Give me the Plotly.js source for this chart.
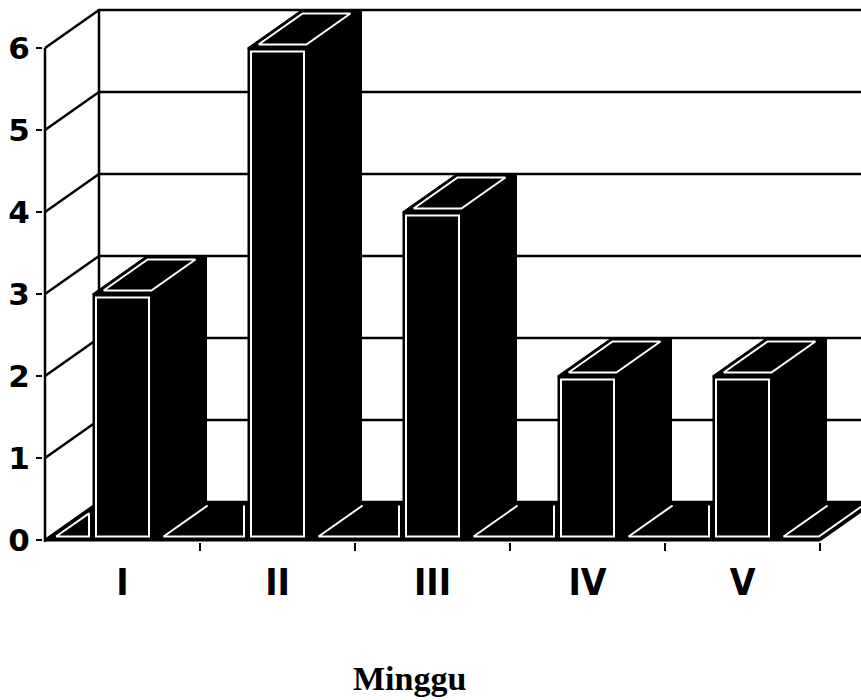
<!DOCTYPE html>
<html>
<head>
<meta charset="utf-8">
<script src="https://cdn.plot.ly/plotly-3.0.1.min.js"></script>
<style>html,body{margin:0;padding:0;background:#fff;}#chart{width:861px;height:700px;}</style>
</head>
<body>
<div id="chart"></div>
<script>
// ---- data ----
const weeks = ['I', 'II', 'III', 'IV', 'V'];
const counts = [3, 6, 4, 2, 2];
const yTickVals = [0, 1, 2, 3, 4, 5, 6];
const yTickText = ['0', '1', '2', '3', '4', '5', '6'];
const xTitle = 'Minggu';

// ---- geometry (pixel scale of the front plane) ----
const W = 861, H = 700;
const ML = 43, MR = 0, MT = 5, MB = 158;
const PX = 155, PY = 82;            // px per data unit
const DX = 54 / PX, DY = 38 / PY;   // 3D depth offset
const HW = 30 / PX;                 // half bar width
const INS = 3.5;                    // inset of white outlines (px)
const xs = counts.map((_, i) => i);
const XL = -0.5, XR = counts.length - 0.5;
const YTOP = yTickVals[yTickVals.length - 1];
const x0 = XL - 2 / PX, x1 = x0 + (W - ML - MR) / PX;
const y0 = -2 / PY, y1 = y0 + (H - MT - MB) / PY;

function toPx(p) { return [p[0] * PX, p[1] * PY]; }
function toData(p) { return [p[0] / PX, p[1] / PY]; }
function insetPoly(poly, d) {
  const P = poly.map(toPx), n = P.length;
  let a = 0;
  for (let i = 0; i < n; i++) { const A = P[i], B = P[(i + 1) % n]; a += A[0] * B[1] - B[0] * A[1]; }
  const s = a > 0 ? 1 : -1;
  const L = [];
  for (let i = 0; i < n; i++) {
    const A = P[i], B = P[(i + 1) % n];
    let ex = B[0] - A[0], ey = B[1] - A[1];
    const len = Math.hypot(ex, ey); ex /= len; ey /= len;
    const nx = -ey * s, ny = ex * s;
    L.push({ p: [A[0] + nx * d, A[1] + ny * d], d: [ex, ey] });
  }
  const out = [];
  for (let i = 0; i < n; i++) {
    const A = L[(i - 1 + n) % n], B = L[i];
    const det = A.d[0] * (-B.d[1]) - A.d[1] * (-B.d[0]);
    const rx = B.p[0] - A.p[0], ry = B.p[1] - A.p[1];
    const t = (rx * (-B.d[1]) - ry * (-B.d[0])) / det;
    out.push([A.p[0] + t * A.d[0], A.p[1] + t * A.d[1]]);
  }
  return out.map(toData);
}
function polyTrace(poly, fill, lineColor, lineWidth, closed) {
  const pts = closed ? poly.concat([poly[0]]) : poly;
  return {
    type: 'scatter', mode: 'lines', x: pts.map(p => p[0]), y: pts.map(p => p[1]),
    fill: fill ? 'toself' : 'none', fillcolor: fill || undefined,
    line: { color: lineColor, width: lineWidth }, hoverinfo: 'skip', showlegend: false
  };
}
function openPath(poly, skipEdge) {
  const n = poly.length, res = [];
  for (let k = 1; k <= n; k++) res.push(poly[(skipEdge + k) % n]);
  return res;
}

const traces = [];
// front faces (bars)
traces.push({
  type: 'bar', x: xs, y: counts, width: 2 * HW, base: 0,
  marker: { color: '#000', line: { width: 0 } }, hoverinfo: 'skip', showlegend: false
});
traces.push({
  type: 'bar', x: xs, y: counts.map(v => v - 2 * INS / PY), base: INS / PY,
  width: 2 * HW - 2 * INS / PX,
  marker: { color: 'rgba(0,0,0,0)', line: { color: '#fff', width: 2 } }, hoverinfo: 'skip', showlegend: false
});

// floor pieces visible between bars
const floorPieces = [];
{
  const xl = xs[0] - HW;
  if (xl - XL < DX) floorPieces.push({ poly: [[XL, 0], [xl, 0], [xl, DY * (xl - XL) / DX]], skip: -1 });
  else floorPieces.push({ poly: [[XL, 0], [xl, 0], [xl, DY], [XL + DX, DY]], skip: 2 });
  for (let i = 0; i < xs.length - 1; i++) {
    const a = xs[i] + HW, b = xs[i + 1] - HW;
    floorPieces.push({ poly: [[a, 0], [b, 0], [b, DY], [a + DX, DY]], skip: 2 });
  }
  const a = xs[xs.length - 1] + HW;
  floorPieces.push({ poly: [[a, 0], [XR, 0], [XR + DX, DY], [a + DX, DY]], skip: 2 });
}
floorPieces.forEach(f => {
  const ins = insetPoly(f.poly, INS);
  if (f.skip < 0) traces.push(polyTrace(ins, null, '#fff', 2, true));
  else traces.push(polyTrace(openPath(ins, f.skip), null, '#fff', 2, false));
});

// side and top faces of each bar
xs.forEach((x, i) => {
  const v = counts[i];
  const side = [[x + HW, 0], [x + HW + DX, DY], [x + HW + DX, v + DY], [x + HW, v]];
  const top = [[x - HW, v], [x + HW, v], [x + HW + DX, v + DY], [x - HW + DX, v + DY]];
  traces.push(polyTrace(side, '#000', '#000', 1, true));
  traces.push(polyTrace(top, '#000', '#000', 1, true));
  traces.push(polyTrace(insetPoly(top, INS), null, '#fff', 2, true));
});

// ---- walls, gridlines, floor as shapes ----
const shapes = [];
const WALL = 'rgba(0,0,0,1)';
shapes.push({ type: 'rect', xref: 'x', yref: 'y', layer: 'below', x0: XL + DX, x1: XR + 2, y0: DY, y1: YTOP + DY,
  fillcolor: '#fff', line: { color: WALL, width: 2.5 } });
yTickVals.forEach(k => {
  if (k > 0 && k < YTOP) shapes.push({ type: 'line', xref: 'x', yref: 'y', layer: 'below',
    x0: XL + DX, x1: XR + 2, y0: k + DY, y1: k + DY, line: { color: WALL, width: 2.5 } });
  shapes.push({ type: 'line', xref: 'x', yref: 'y', layer: 'below',
    x0: XL, x1: XL + DX, y0: k, y1: k + DY, line: { color: WALL, width: 2.5 } });
});
// floor
shapes.push({ type: 'path', xref: 'x', yref: 'y', layer: 'below',
  path: `M${XL},0 L${XR},0 L${XR + DX},${DY} L${XL + DX},${DY} Z`, fillcolor: '#000', line: { color: '#000', width: 1 } });
// front axis lines
shapes.push({ type: 'line', xref: 'x', yref: 'y', layer: 'above', x0: XL, x1: XR, y0: 0, y1: 0, line: { color: '#000', width: 3 } });
shapes.push({ type: 'line', xref: 'x', yref: 'y', layer: 'above', x0: XL, x1: XL, y0: y0, y1: YTOP, line: { color: '#000', width: 2.5 } });
shapes.push({ type: 'line', xref: 'x', yref: 'y', layer: 'above', x0: XR, x1: XR + DX, y0: 0, y1: DY, line: { color: '#000', width: 2.5 } });

const layout = {
  width: W, height: H,
  margin: { l: ML, r: MR, t: MT, b: MB, pad: 0 },
  paper_bgcolor: '#fff', plot_bgcolor: '#fff',
  barmode: 'overlay', showlegend: false,
  xaxis: {
    type: 'linear', range: [x0, x1], showgrid: false, zeroline: false, showline: false,
    tickmode: 'array', tickvals: xs, ticktext: weeks,
    ticks: 'outside', ticklen: 8, tickcolor: 'rgba(0,0,0,0)',
    tickfont: { family: 'DejaVu Sans Condensed, Liberation Sans, Arial, sans-serif', size: 37, color: '#000', weight: 'bold' },
    minor: { tickmode: 'array', tickvals: xs.map(x => x + 0.5), ticks: 'outside', ticklen: 8, tickwidth: 2.5, tickcolor: '#000', showgrid: false },
    fixedrange: true
  },
  yaxis: {
    range: [y0, y1], showgrid: false, zeroline: false, showline: false,
    tickmode: 'array', tickvals: yTickVals, ticktext: yTickText,
    ticks: 'outside', ticklen: 6, tickwidth: 2.5, tickcolor: '#000',
    tickfont: { family: 'DejaVu Sans, sans-serif', size: 31, color: '#000', weight: 'bold' },
    fixedrange: true
  },
  shapes: shapes,
  annotations: [{
    text: xTitle, xref: 'paper', yref: 'paper', x: (409 - ML) / (W - ML - MR), y: -(678 - (H - MB)) / (H - MT - MB),
    xanchor: 'center', yanchor: 'middle', showarrow: false,
    font: { family: 'Liberation Serif, Times New Roman, serif', size: 34, color: '#000', weight: 'bold' }
  }]
};

Plotly.newPlot('chart', traces, layout, { staticPlot: true, displayModeBar: false });
</script>
</body>
</html>
